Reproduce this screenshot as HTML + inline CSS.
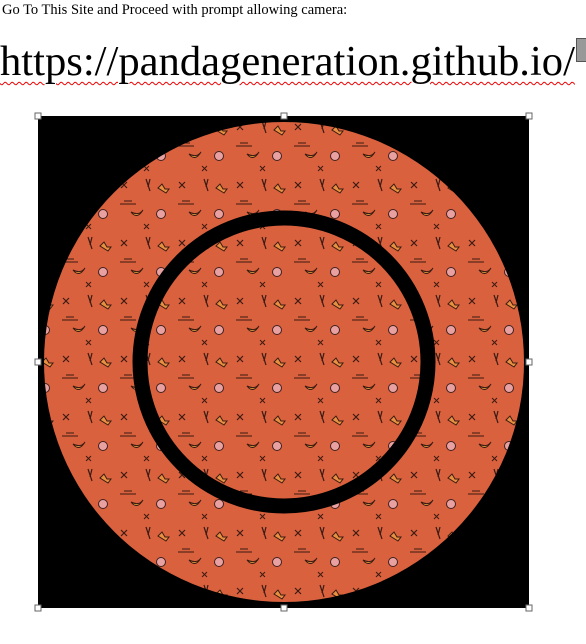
<!DOCTYPE html>
<html><head><meta charset="utf-8">
<style>
body{margin:0;width:586px;height:644px;background:#fff;overflow:hidden;position:relative;font-family:"Liberation Serif",serif;}
#line1{position:absolute;left:2px;top:2px;font-size:14.5px;color:#000;white-space:nowrap;}
#url{position:absolute;left:0px;top:37px;font-size:42.6px;color:#000;white-space:nowrap;text-decoration:underline wavy #e00;text-decoration-thickness:1px;text-underline-offset:6px;}
#tag{position:absolute;left:576px;top:38px;width:10px;height:22px;background:#999;border:1px solid #555;}
svg{position:absolute;left:0;top:0;}
</style></head><body>
<div id="line1">Go To This Site and Proceed with prompt allowing camera:</div>
<div id="url">https://pandageneration.github.io/</div>
<div id="tag"></div>
<svg width="586" height="644">
<defs>
<pattern id="pat" width="58" height="58" patternUnits="userSpaceOnUse">
<rect width="58" height="58" fill="#d9613e"/>
<path d="M5 8 l6 6 M11 8 l-6 6" stroke="#3a1a10" stroke-width="1.2"/>
<path d="M30 5 l4 12 M34 5 l-2 8" stroke="#3a1a10" stroke-width="1.2"/>
<circle cx="45" cy="40" r="4.5" fill="#e8a0a0" stroke="#402020" stroke-width="1"/>
<path d="M15 38 q6 8 12 -2 q-4 6 -12 2z" fill="#e0a040" stroke="#3a1a10" stroke-width="1"/>
<path d="M42 14 l4 -4 l3 5 l4 0 l-3 4 z" fill="#e89040" stroke="#3a1a10" stroke-width="1"/>
<path d="M4 30 h16 M8 27 h8" stroke="#3a1a10" stroke-width="1"/>
<path d="M28 50 l5 5 M33 50 l-5 5" stroke="#3a1a10" stroke-width="1"/>
</pattern>
</defs>
<rect x="38" y="116" width="491" height="492" fill="#000"/>
<circle cx="284" cy="362" r="240" fill="url(#pat)"/>
<circle cx="284" cy="362" r="144" fill="none" stroke="#000" stroke-width="15"/>
<g fill="#fff" stroke="#666" stroke-width="1">
<rect x="35" y="113" width="6" height="6"/><rect x="281" y="113" width="6" height="6"/><rect x="526" y="113" width="6" height="6"/>
<rect x="35" y="359" width="6" height="6"/><rect x="526" y="359" width="6" height="6"/>
<rect x="35" y="605" width="6" height="6"/><rect x="281" y="605" width="6" height="6"/><rect x="526" y="605" width="6" height="6"/>
</g>
</svg>
</body></html>
